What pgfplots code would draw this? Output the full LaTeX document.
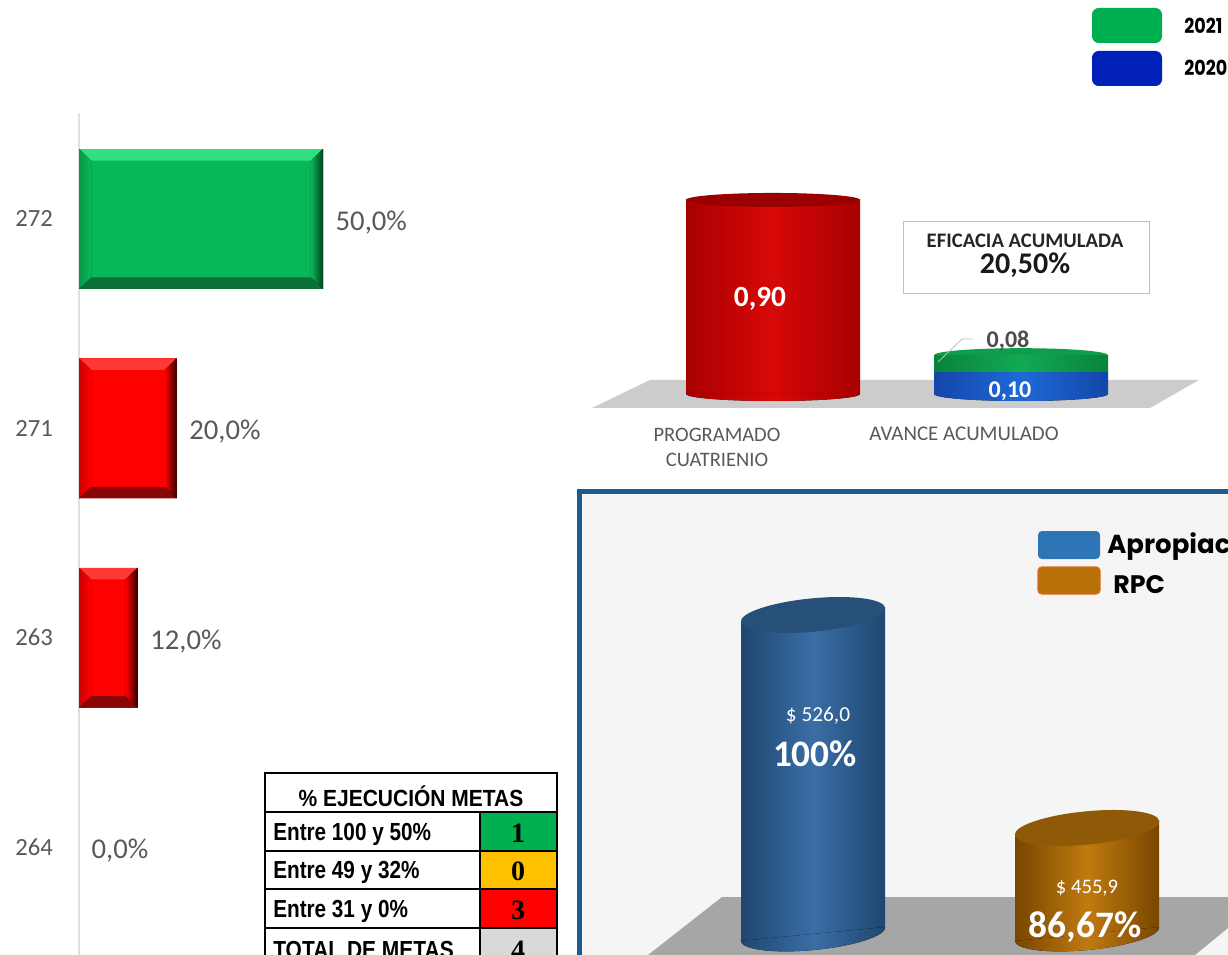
\documentclass[border=0pt]{standalone}
\usepackage{fontspec}
\usepackage{graphicx}
\usepackage{pgfplots}
\pgfplotsset{compat=1.18}
\setmainfont{Carlito}
\newfontfamily\lib{Liberation Sans}
\newfontfamily\tim{Liberation Serif}
\newfontfamily\pop{Poppins}
\definecolor{tickgray}{HTML}{595959}
\definecolor{gmain}{HTML}{08B858}
\definecolor{glight}{HTML}{30E080}
\definecolor{gdark}{HTML}{0A6F38}
\definecolor{gedge}{HTML}{013D1C}
\definecolor{rmain}{HTML}{FF0000}
\definecolor{rlight}{HTML}{FF3838}
\definecolor{rdark}{HTML}{8A0606}
\definecolor{redge}{HTML}{300000}
\definecolor{frame}{HTML}{1F5A8F}
\definecolor{panel}{HTML}{F5F5F5}
\definecolor{floorB}{HTML}{A6A6A6}
\definecolor{cyrE}{HTML}{A80000}
\definecolor{cyrM}{HTML}{D80808}
\definecolor{cyrT}{HTML}{9A0000}
\definecolor{cybE}{HTML}{1446AA}
\definecolor{cybM}{HTML}{1E69D7}
\definecolor{cygE}{HTML}{0A823C}
\definecolor{cygM}{HTML}{10AA55}
\definecolor{cygT}{HTML}{0E9E4A}
\definecolor{c2bE}{HTML}{1F4670}
\definecolor{c2bM}{HTML}{3A6EA5}
\definecolor{c2bT}{HTML}{265078}
\definecolor{c2oE}{HTML}{784600}
\definecolor{c2oM}{HTML}{C07A10}
\definecolor{c2oT}{HTML}{8F5A08}
\definecolor{lgG}{HTML}{00B050}
\definecolor{lgB}{HTML}{0020B8}
\definecolor{lgA}{HTML}{2E75B6}
\definecolor{lgO}{HTML}{B87008}
\definecolor{lgOe}{HTML}{E1691E}
\definecolor{tbA}{HTML}{FFC000}
\newcommand\bevel[6]{%
 \fill[#3] (axis cs:0,{#2+0.334}) -- (axis cs:#1,{#2+0.334}) -- (axis cs:{#1-2.46},{#2+0.334-0.055}) -- (axis cs:2.46,{#2+0.334-0.055}) -- cycle;
 \fill[#4] (axis cs:0,{#2-0.334}) -- (axis cs:#1,{#2-0.334}) -- (axis cs:{#1-2.46},{#2-0.334+0.055}) -- (axis cs:2.46,{#2-0.334+0.055}) -- cycle;
 \fill[left color=#6,right color=#5] (axis cs:#1,{#2+0.334}) -- (axis cs:#1,{#2-0.334}) -- (axis cs:{#1-2.46},{#2-0.334+0.055}) -- (axis cs:{#1-2.46},{#2+0.334-0.055}) -- cycle;
 \fill[left color=#4!45!#6,right color=#6] (axis cs:0,{#2+0.334}) -- (axis cs:0,{#2-0.334}) -- (axis cs:2.46,{#2-0.334+0.055}) -- (axis cs:2.46,{#2+0.334-0.055}) -- cycle;
}
\newcommand\tiltjoin[5]{%
 \fill[panel] (axis cs:{#1-0.268},{#2+0.6}) -- (axis cs:{#1-0.268},{#2-2.8}) -- (axis cs:{#1-0.16},{#2+0.6}) -- cycle;
 \fill[#4] (axis cs:{#1+0.2628},#2) -- (axis cs:{#1+0.2628},{#2+2.6}) -- (axis cs:{#1+0.18},#2) -- cycle;
 \fill[floorB] (axis cs:{#1+0.268},{#3-0.6}) -- (axis cs:{#1+0.268},{#3+1.8}) -- (axis cs:{#1+0.2},{#3-0.6}) -- cycle;
 \fill[left color=#4,right color=#5] (axis cs:{#1-0.2628},{#3+0.3}) -- (axis cs:{#1-0.2628},{#3-2.6}) -- (axis cs:#1,{#3-0.2}) -- (axis cs:#1,{#3+0.3}) -- cycle;
}
\begin{document}
\begin{tikzpicture}
\path[use as bounding box,clip] (0,0) rectangle (921pt,-716.25pt);
\begin{scope}[x=0.75pt,y=-0.75pt]
 \fill[white] (0,0) rectangle (1228,955);
 \fill[fill=black!20] (592,408) -- (650,380) -- (1199,380) -- (1150,408) -- cycle;
 \filldraw[draw=frame,line width=3.75pt,fill=panel] (579.5,491.5) rectangle (1300,1000);
 \fill[floorB] (648,955) -- (722,897) -- (1228,897) -- (1228,928) -- (1195,955) -- cycle;
\end{scope}

% left bars
\begin{axis}[at={(59.25pt,-84.75pt)},anchor=north west,scale only axis,
  width=219.6pt,height=631.5pt,xmin=0,xmax=60,ymin=-0.515,ymax=3.506,
  axis x line=none,axis y line=left,
  y axis line style={-,draw=black!12,line width=0.8pt},
  ytick={0,1,2,3},yticklabels={264,263,271,272},
  major tick length=0pt,
  yticklabel style={font=\fontsize{18.5}{24}\selectfont,text=tickgray,xshift=-16pt},
  /pgf/number format/assume math mode=true,
  xbar,bar width=105pt,bar shift=0pt,clip=false,
  point meta=x,
  nodes near coords={\pgfmathprintnumber[fixed,fixed zerofill,precision=1,use comma]{\pgfplotspointmeta}\%},
  nodes near coords style={font=\fontsize{21.5}{24}\selectfont,text=tickgray,anchor=west,xshift=6pt,yshift=-2.5pt},
  ]
 \addplot[draw=none,fill=gmain] coordinates {(50,3)};
 \addplot[draw=none,fill=rmain] coordinates {(20,2)};
 \addplot[draw=none,fill=rmain] coordinates {(12,1)};
 \addplot[draw=none,fill=none] coordinates {(0,0)};
 \bevel{50}{3}{glight}{gdark}{gedge}{gmain}
 \bevel{20}{2}{rlight}{rdark}{redge}{rmain}
 \bevel{12}{1}{rlight}{rdark}{redge}{rmain}
\end{axis}

% chart 1: red column
\begin{axis}[at={(393.75pt,-133.8pt)},anchor=north west,scale only axis,
  width=558pt,height=161.7pt,xmin=-1,xmax=2,ymin=0,ymax=1,hide axis,clip=false,
  ybar,bar width=130.5pt,bar shift=0pt]
 \addplot[draw=none,left color=cyrE,right color=cyrE,middle color=cyrM] coordinates {(0,0.90)};
 \fill[left color=cyrE,right color=cyrE,middle color=cyrM] (axis cs:0,0) ++(-65.25pt,0pt) arc [start angle=180,end angle=360,x radius=65.25pt,y radius=5.25pt] -- cycle;
 \fill[cyrT] (axis cs:0,0.90) ellipse [x radius=65.25pt,y radius=5.25pt];
\end{axis}
% chart 1: stacked column
\begin{axis}[at={(393.75pt,-133.8pt)},anchor=north west,scale only axis,
  width=558pt,height=161.7pt,xmin=-1,xmax=2,ymin=0,ymax=1,hide axis,clip=false,
  ybar stacked,bar width=130.5pt,bar shift=0pt]
 \addplot[draw=none,left color=cybE,right color=cybE,middle color=cybM] coordinates {(1,0.10)};
 \addplot[draw=none,left color=cygE,right color=cygE,middle color=cygM] coordinates {(1,0.08)};
 \fill[left color=cybE,right color=cybE,middle color=cybM] (axis cs:1,0) ++(-65.25pt,0pt) arc [start angle=180,end angle=360,x radius=65.25pt,y radius=5.25pt] -- cycle;
 \fill[cygT] (axis cs:1,0.18) ellipse [x radius=65.25pt,y radius=5.25pt];
\end{axis}

% chart 2
\begin{axis}[at={(404.25pt,-461.25pt)},anchor=north west,scale only axis,
  width=616.5pt,height=239.25pt,xmin=-1,xmax=2,ymin=421,ymax=526,hide axis,
  clip mode=individual,ybar,bar width=108pt,bar shift=0pt]
 \addplot[draw=none,left color=c2bE,right color=c2bE,middle color=c2bM] coordinates {(0,526)};
 \tiltjoin{0}{526}{421}{c2bE}{c2bM}
 \fill[shift={(axis cs:0,421)},rotate=5.5,left color=c2bE,right color=c2bE,middle color=c2bM] (-54.4pt,0pt) arc [start angle=180,end angle=360,x radius=54.4pt,y radius=12pt] -- cycle;
 \fill[c2bT] (axis cs:0,526) ellipse [x radius=54.4pt,y radius=12.5pt,rotate=5.5];
 \addplot[draw=none,left color=c2oE,right color=c2oE,middle color=c2oM] coordinates {(1,455.9)};
 \tiltjoin{1}{455.9}{421}{c2oE}{c2oM}
 \fill[shift={(axis cs:1,421)},rotate=5.5,left color=c2oE,right color=c2oE,middle color=c2oM] (-54.4pt,0pt) arc [start angle=180,end angle=360,x radius=54.4pt,y radius=12pt] -- cycle;
 \fill[c2oT] (axis cs:1,455.9) ellipse [x radius=54.4pt,y radius=12.5pt,rotate=5.5];
\end{axis}

\begin{scope}[x=0.75pt,y=-0.75pt]
 \fill[lgG,rounded corners=5pt] (1092,8) rectangle (1162,43);
 \fill[lgB,rounded corners=5pt] (1092,51) rectangle (1162,86);
 \node[anchor=west,inner sep=0pt,font=\pop\bfseries\fontsize{15.5}{18}\selectfont] at (1184,26) {\scalebox{0.85}[1]{2021}};
 \node[anchor=west,inner sep=0pt,font=\pop\bfseries\fontsize{15.5}{18}\selectfont] at (1184,68) {\scalebox{0.85}[1]{2020}};
 \node[font=\bfseries\fontsize{22}{26}\selectfont,text=white] at (760,299) {0,90};
 \node[font=\bfseries\fontsize{18}{22}\selectfont,text=white] at (1010,391) {0,10};
 \node[font=\bfseries\fontsize{18}{22}\selectfont,text=black!70] at (1008,341) {0,08};
 \draw[black!25,line width=0.6pt] (938,362) -- (962,339) -- (973,339);
 \filldraw[draw=black!25,fill=white,line width=0.7pt] (903,221) rectangle (1149,293);
 \node[font=\bfseries\fontsize{15.5}{18}\selectfont,text=black!85] at (1025,241) {EFICACIA ACUMULADA};
 \node[font=\bfseries\fontsize{22.5}{26}\selectfont,text=black!90] at (1025,265) {20,50\%};
 \node[font=\fontsize{15.4}{18}\selectfont,text=tickgray] at (717,435) {PROGRAMADO};
 \node[font=\fontsize{15.4}{18}\selectfont,text=tickgray] at (717,460) {CUATRIENIO};
 \node[font=\fontsize{15.7}{18}\selectfont,text=tickgray] at (964,434) {AVANCE ACUMULADO};
 \fill[lgA,rounded corners=3pt] (1038,531) rectangle (1100,559);
 \filldraw[draw=lgOe,line width=1pt,fill=lgO,rounded corners=3pt] (1038,567) rectangle (1100,594);
 \node[anchor=west,inner sep=0pt,font=\pop\bfseries\fontsize{19.5}{22}\selectfont] at (1107,546) {Apropiación};
 \node[anchor=west,inner sep=0pt,font=\pop\bfseries\fontsize{19}{22}\selectfont] at (1113,585) {RPC};
 \node[font=\fontsize{16}{18}\selectfont,text=white] at (818,716) {\$ 526,0};
 \node[font=\bfseries\fontsize{28}{32}\selectfont,text=white] at (815,754) {100\%};
 \node[font=\fontsize{15.5}{18}\selectfont,text=white] at (1087,888) {\$ 455,9};
 \node[font=\bfseries\fontsize{28}{32}\selectfont,text=white] at (1085,927) {86,67\%};
 \fill[lgG] (480,812) rectangle (557,851);
 \fill[tbA] (480,851) rectangle (557,889);
 \fill[red] (480,889) rectangle (557,928);
 \fill[black!15] (480,928) rectangle (557,960);
 \draw[black,line width=1.6pt] (265,773) rectangle (557,970);
 \draw[black,line width=1.6pt] (265,812) -- (557,812) (265,851) -- (557,851) (265,889) -- (557,889) (265,928) -- (557,928) (480,812) -- (480,970);
 \node[inner sep=0pt,font=\lib\bfseries\fontsize{17.5}{20}\selectfont] at (411,796) {\scalebox{0.90}[1]{\% EJECUCIÓN METAS}};
 \node[anchor=west,inner sep=0pt,font=\lib\bfseries\fontsize{18.5}{22}\selectfont] at (273,834) {\scalebox{0.84}[1]{Entre 100 y 50\%}};
 \node[anchor=west,inner sep=0pt,font=\lib\bfseries\fontsize{18.5}{22}\selectfont] at (273,872) {\scalebox{0.84}[1]{Entre 49 y 32\%}};
 \node[anchor=west,inner sep=0pt,font=\lib\bfseries\fontsize{18.5}{22}\selectfont] at (273,911) {\scalebox{0.84}[1]{Entre 31 y 0\%}};
 \node[anchor=west,inner sep=0pt,font=\lib\bfseries\fontsize{18.5}{22}\selectfont] at (273,950) {\scalebox{0.85}[1]{TOTAL DE METAS}};
 \node[inner sep=0pt,font=\tim\bfseries\fontsize{21}{24}\selectfont] at (518,833) {1};
 \node[inner sep=0pt,font=\tim\bfseries\fontsize{21}{24}\selectfont] at (518,871) {0};
 \node[inner sep=0pt,font=\tim\bfseries\fontsize{21}{24}\selectfont] at (518,910) {3};
 \node[inner sep=0pt,font=\tim\bfseries\fontsize{21}{24}\selectfont] at (518,950) {4};
\end{scope}
\end{tikzpicture}
\end{document}
